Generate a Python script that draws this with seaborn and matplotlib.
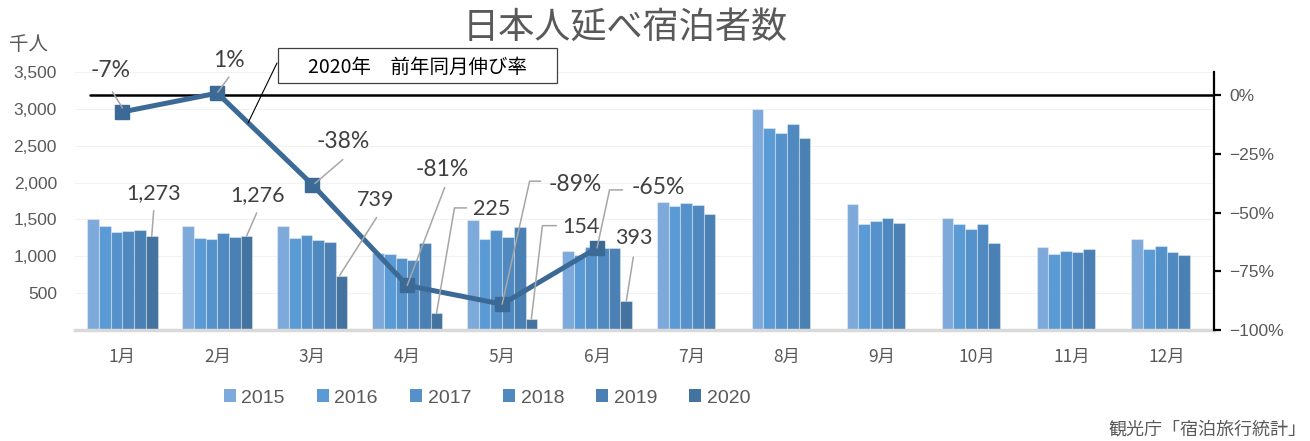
import numpy as np
import pandas as pd
import matplotlib
matplotlib.use('Agg')
import matplotlib.pyplot as plt
from matplotlib.lines import Line2D
from matplotlib.patches import Patch, Rectangle
from matplotlib.ticker import FuncFormatter
import seaborn as sns

sns.set_style('white')
plt.rcParams['font.family'] = ['Liberation Sans', 'Noto Sans CJK JP', 'DejaVu Sans']

# data (千人)
months = ['1月', '2月', '3月', '4月', '5月', '6月', '7月', '8月', '9月', '10月', '11月', '12月']
years = ['2015', '2016', '2017', '2018', '2019', '2020']
v2015 = [1507, 1407, 1412, 1040, 1498, 1071, 1739, 2992, 1712, 1521, 1126, 1230]
v2016 = [1407, 1253, 1244, 1030, 1239, 1021, 1680, 2747, 1440, 1444, 1026, 1103]
v2017 = [1335, 1230, 1285, 971, 1362, 1130, 1725, 2670, 1480, 1376, 1076, 1135]
v2018 = [1344, 1312, 1226, 944, 1262, 1112, 1693, 2792, 1525, 1444, 1062, 1062]
v2019 = [1362, 1257, 1199, 1185, 1394, 1108, 1580, 2611, 1448, 1185, 1099, 1017]
v2020 = [1273, 1276, 739, 225, 154, 393, np.nan, np.nan, np.nan, np.nan, np.nan, np.nan]
yoy2020 = [-7, 1, -38, -81, -89, -65]

colors = ['#7EAADB', '#5B9BD5', '#5592CB', '#4F89BF', '#4A80B3', '#44739F']
line_color = '#3C6A97'
text_gray = '#595959'
label_gray = '#404040'

# label placement: (label dx, dy) and leader path, in pixels from the mark
pct_pos = [(-12, -41, [(-10, -20), (0, -4)]),
           (11.5, -33, [(11.5, -16), (0.5, -1)]),
           (30.5, -43, [(30.5, -25), (2.5, -1)]),
           (35.5, -116, [(37.5, -98), (0, 0)]),
           (73.5, -120, [(38.5, -123), (27.5, -123), (0, 0)]),
           (61.5, -60, [(25.5, -58), (12.5, -58), (0, 0)])]
bar_pos = [(2, -43.5, [(2, -25.5), (0, 0)]),
           (11, -41, [(10, -23), (0, 0)]),
           (34, -76, [(35, -58), (-2, 0)]),
           (55, -104.5, [(30, -105.5), (18, -105.5), (0, 0)]),
           (50, -92, [(25, -93), (11, -93), (0, 0)]),
           (8, -63, [(7, -44), (0, 0)])]

series = [v2015, v2016, v2017, v2018, v2019, v2020]
df = pd.DataFrame({
    'month': np.tile(months, len(years)),
    'year': np.repeat(years, len(months)),
    'value': np.concatenate(series),
})

W, H = 1310, 441
fig = plt.figure(figsize=(W / 100, H / 100), dpi=100)
ax = fig.add_axes([75 / W, 1 - 330 / H, (1214 - 75) / W, (330 - 72) / H])

group_w = 0.74
sns.barplot(data=df, x='month', y='value', hue='year', order=months, hue_order=years,
            palette=dict(zip(years, colors)), saturation=1, width=group_w, gap=0, ax=ax,
            edgecolor=(1, 1, 1, 0.35), linewidth=0.8, legend=False)

ax.set_xlim(-0.5, 11.5)
ax.set_ylim(0, 3500)
ax.set_yticks(range(500, 3501, 500))
ax.yaxis.set_major_formatter(FuncFormatter(lambda v, p: f'{int(v):,}'))
ax.set_xlabel('')
ax.set_ylabel('')
ax.yaxis.grid(True, color='#F2F2F2', lw=0.8)
ax.set_axisbelow(True)
for s in ['left', 'right', 'top']:
    ax.spines[s].set_visible(False)
ax.spines['bottom'].set_color('#D9D9D9')
ax.spines['bottom'].set_linewidth(2.5)
ax.tick_params(axis='y', length=0, labelsize=12.5, labelcolor=text_gray, pad=13)
ax.tick_params(axis='x', length=0, labelsize=12.5, labelcolor=text_gray, pad=13)
for t in ax.get_xticklabels():
    t.set_fontfamily(['Noto Sans CJK JP'])

# secondary axis: YoY growth 2020
ax2 = ax.twinx()
ax2.set_ylim(-100, 10)
ax2.set_yticks([0, -25, -50, -75, -100])
ax2.yaxis.set_major_formatter(FuncFormatter(lambda v, p: f'{v:.0f}%'.replace('-', '\u2212')))
for s in ['left', 'top', 'bottom']:
    ax2.spines[s].set_visible(False)
ax2.spines['right'].set_color('black')
ax2.spines['right'].set_linewidth(1.6)
ax2.tick_params(axis='y', direction='out', length=5, width=1.6, color='black',
                labelsize=12.5, labelcolor=text_gray, pad=6)
ax2.axhline(0, xmin=15 / 1139, xmax=1, color='black', lw=1.8, zorder=1)
xs = np.arange(len(yoy2020))
ax2.plot(xs, yoy2020, color=line_color, lw=3.6, marker='s', ms=10, zorder=3)


def place(axis, x, y, text, pos, size):
    px, py = axis.transData.transform((x, y))
    lx, ly, path = pos
    inv = fig.transFigure.inverted()
    pts = [inv.transform((px + dx, py - dy)) for dx, dy in path]
    fig.add_artist(Line2D([p[0] for p in pts], [p[1] for p in pts], color='#A6A6A6', lw=1.1))
    tx, ty = inv.transform((px + lx, py - ly))
    fig.text(tx, ty, text, ha='center', va='center', fontsize=size, color=label_gray,
             family=['Lato', 'Liberation Sans'])


bw = group_w / len(years)
off = (len(years) - 1) / 2 * bw
for i, (v, pos) in enumerate(zip(yoy2020, pct_pos)):
    place(ax2, i, v, f'{v}%', pos, 16.5)
for i, pos in enumerate(bar_pos):
    place(ax, i + off, v2020[i], f'{int(v2020[i]):,}', pos, 15.5)

# callout box
fig.add_artist(Rectangle((278 / W, 1 - 83 / H), 279 / W, 35 / H, transform=fig.transFigure,
                         fc='white', ec='#404040', lw=0.9, zorder=5))
fig.text(417 / W, 1 - 67 / H, '2020年\u3000前年同月伸び率', ha='center', va='center',
         fontsize=14, color='black', family=['Noto Sans CJK JP'], zorder=6)
fig.add_artist(Line2D([277 / W, 248 / W], [1 - 63 / H, 1 - 123 / H], color='black', lw=0.8))

fig.text(625 / W, 1 - 28 / H, '日本人延べ宿泊者数', ha='center', va='center', fontsize=26,
         color=text_gray, family=['Noto Sans CJK JP'])
fig.text(29 / W, 1 - 44 / H, '千人', ha='center', va='center', fontsize=14,
         color=text_gray, family=['Noto Sans CJK JP'])
fig.text(1306 / W, 1 - 430 / H, '観光庁「宿泊旅行統計」', ha='right', va='center', fontsize=13,
         color=text_gray, family=['Noto Sans CJK JP'])

handles = [Patch(facecolor=c, edgecolor='none') for c in colors]
leg = fig.legend(handles, years, loc='center', bbox_to_anchor=(487 / W, 1 - 398 / H), ncol=6,
                 frameon=False, handlelength=0.6, handleheight=0.6, handletextpad=0.3,
                 columnspacing=1.65, prop={'family': ['Liberation Sans'], 'size': 14})
for t in leg.get_texts():
    t.set_color(text_gray)

fig.savefig('out.png', dpi=100)
